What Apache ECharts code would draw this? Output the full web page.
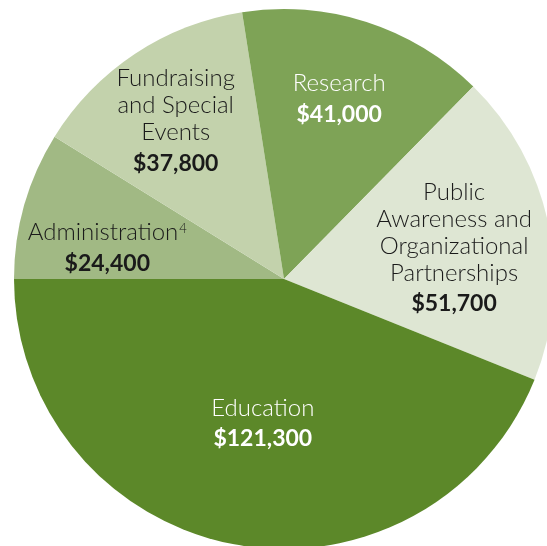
<!DOCTYPE html>
<html>
<head>
<meta charset="utf-8">
<script src="https://cdn.jsdelivr.net/npm/echarts@6/dist/echarts.min.js"></script>
<style>
  html, body { margin: 0; padding: 0; background: #ffffff; }
  #chart_view { width: 547px; height: 546px; }
</style>
</head>
<body>
<div id="chart_view"></div>
<script>
// slices, clockwise from 9 o'clock
const categories = ['Administration', 'Fundraising and Special Events', 'Research',
    'Public Awareness and Organizational Partnerships', 'Education'];
const amounts = [24400, 37800, 41000, 51700, 121300];
const labelLines = [
    ['Administration'],
    ['Fundraising', 'and Special', 'Events'],
    ['Research'],
    ['Public', 'Awareness and', 'Organizational', 'Partnerships'],
    ['Education']
];
const footnotes = ['4', '', '', '', ''];

const sliceColors = ['#a1b984', '#c3d2ac', '#7ea356', '#dee6d3', '#5c8829'];
const textColors = ['#1a1a1a', '#1a1a1a', '#ffffff', '#1a1a1a', '#ffffff'];
// nudge labels away from the default 'inside' spot
const labelOffsets = [[-44, 9], [-32, -41], [13, -47], [35, -1], [5, 11]];

var myChart = echarts.init(document.getElementById('chart_view'));

var option = {
    animation: false,
    series: [
        {
            type: 'pie',
            center: [284, 279],
            radius: [0, 270],
            startAngle: 180,
            clockwise: true,
            silent: true,
            avoidLabelOverlap: false,
            labelLine: { show: false },
            label: {
                show: true,
                position: 'inside',
                fontFamily: 'Lato',
                formatter: function (p) {
                    var lines = labelLines[p.dataIndex].map(function (l) { return '{n|' + l + '}'; });
                    if (footnotes[p.dataIndex]) {
                        lines[lines.length - 1] += '{s|' + footnotes[p.dataIndex] + '}';
                    }
                    return lines.join('\n') + '\n{v|$' + p.value.toLocaleString('en-US') + '}';
                },
                rich: {
                    n: { fontFamily: 'Lato', fontSize: 24, fontWeight: 300, lineHeight: 27 },
                    s: { fontFamily: 'Lato', fontSize: 13, fontWeight: 300, lineHeight: 27, verticalAlign: 'top', padding: [3, 0, 0, 1] },
                    v: { fontFamily: 'Lato', fontSize: 23, fontWeight: 'bold', lineHeight: 35 }
                }
            },
            data: categories.map(function (name, i) {
                return {
                    name: name,
                    value: amounts[i],
                    itemStyle: { color: sliceColors[i] },
                    label: { color: textColors[i], offset: labelOffsets[i] }
                };
            })
        }
    ]
};

myChart.setOption(option);
</script>
</body>
</html>
